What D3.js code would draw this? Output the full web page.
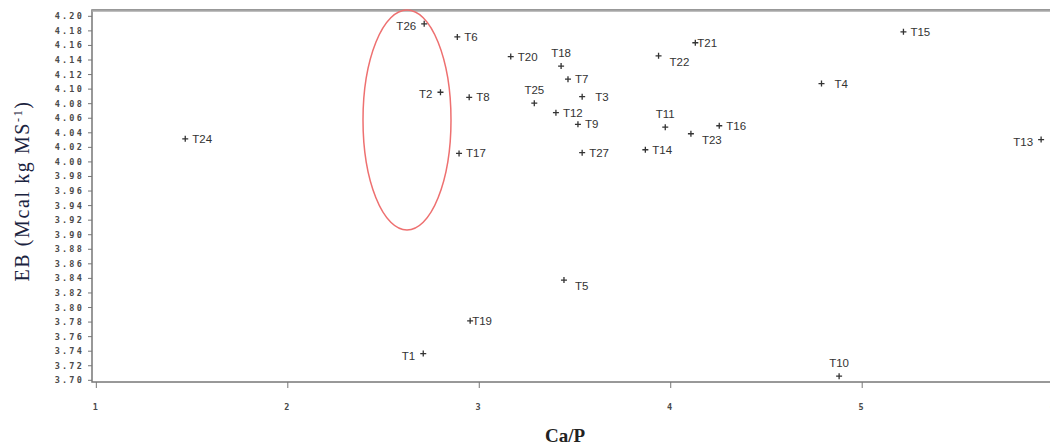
<!DOCTYPE html>
<html>
<head>
<meta charset="utf-8">
<script src="https://cdn.jsdelivr.net/npm/d3@7"></script>
<style>
  body { margin: 0; background: #fff; }
  svg { display: block; }
  .tick text { font-family: "DejaVu Sans Mono", monospace; font-weight: bold; font-size: 8.5px; fill: #4a4a4a; letter-spacing: 2.2px; }
  .tick line, .domain { stroke: #777; }
  .etiketa { font-family: "Liberation Sans", Arial, sans-serif; font-size: 11.5px; fill: #333; }
</style>
</head>
<body>
<div id="okvir"></div>
<script>
// tretmani, odnos Ca/P i EB
const tretmani = ["T1","T2","T3","T4","T5","T6","T7","T8","T9","T10","T11","T12","T13","T14","T15","T16","T17","T18","T19","T20","T21","T22","T23","T24","T25","T26","T27"]
const caP = [2.71, 2.80, 3.54, 4.79, 3.445, 2.888, 3.466, 2.95, 3.518, 4.882, 3.974, 3.403, 5.937, 3.87, 5.218, 4.256, 2.897, 3.43, 2.955, 3.167, 4.131, 3.939, 4.108, 1.467, 3.29, 2.715, 3.54]
const eb = [3.736, 4.095, 4.089, 4.107, 3.837, 4.171, 4.113, 4.088, 4.051, 3.705, 4.047, 4.067, 4.030, 4.016, 4.178, 4.049, 4.011, 4.131, 3.781, 4.144, 4.163, 4.145, 4.038, 4.031, 4.080, 4.189, 4.012]
// gdje stoji oznaka u odnosu na tocku
const polozajOznake = ["lijevo","lijevo","desnoDalje","desnoDalje","doljeDesno","desno","desno","desno","desno","gore","gore","desno","lijevo","desno","desno","desno","desno","gore","desnoBlizu","desno","desnoBlizu","doljeDesno","doljeDesno","desno","gore","lijevo","desno"]

const xTicks = [1, 2, 3, 4, 5, 6]
const yTicks = d3.range(3.70, 4.2001, 0.02)

const dimenzije = { sirina: 1050, visina: 446 }

const okvir = d3.select("#okvir").append("svg")
  .attr("width", dimenzije.sirina)
  .attr("height", dimenzije.visina)

const x = d3.scaleLinear().domain([0.98, 6.02]).range([92, 1057])
const y = d3.scaleLinear().domain([3.697, 4.208]).range([382, 10])

// okvir grafa
okvir.append("rect")
  .attr("x", x.range()[0]).attr("y", y.range()[1])
  .attr("width", x.range()[1] - x.range()[0])
  .attr("height", y.range()[0] - y.range()[1])
  .attr("fill", "none").attr("stroke", "#777").attr("stroke-width", 1.5)
okvir.append("line")
  .attr("x1", x.range()[0]).attr("x2", x.range()[1])
  .attr("y1", y.range()[1] + 1).attr("y2", y.range()[1] + 1)
  .attr("stroke", "#aaa").attr("stroke-width", 1.5)

const xOs = okvir.append("g")
  .attr("transform", `translate(0,${y.range()[0]})`)
  .call(d3.axisBottom(x).tickValues(xTicks).tickFormat(d3.format("d")).tickSize(6).tickPadding(16))
xOs.select(".domain").remove()

const yOs = okvir.append("g")
  .attr("transform", `translate(${x.range()[0]},0)`)
  .call(d3.axisLeft(y).tickValues(yTicks).tickFormat(d3.format(".2f")).tickSize(4).tickPadding(4))
yOs.select(".domain").remove()
yOs.selectAll(".tick text").attr("dy", "0.35em")

// crvena elipsa
okvir.append("ellipse")
  .attr("cx", 407).attr("cy", 120)
  .attr("rx", 44).attr("ry", 110)
  .attr("fill", "none").attr("stroke", "#ee7070").attr("stroke-width", 1.5)

const podaci = tretmani.map((t, i) => ({ t, x: caP[i], y: eb[i], p: polozajOznake[i] }))

const tocke = okvir.append("g")
tocke.selectAll("path")
  .data(podaci)
  .enter().append("path")
  .attr("d", d => {
    const cx = x(d.x), cy = y(d.y)
    return `M${cx - 3},${cy}H${cx + 3}M${cx},${cy - 3}V${cy + 3}`
  })
  .attr("stroke", "#333").attr("stroke-width", 1.3)

const pomak = {
  desno: [7, 4, "start"],
  desnoBlizu: [2, 4, "start"],
  desnoDalje: [13, 4, "start"],
  lijevo: [-8, 6, "end"],
  gore: [0, -9, "middle"],
  doljeDesno: [11, 10, "start"],
}

tocke.selectAll("text")
  .data(podaci)
  .enter().append("text")
  .attr("class", "etiketa")
  .attr("x", d => x(d.x) + pomak[d.p][0])
  .attr("y", d => y(d.y) + pomak[d.p][1])
  .attr("text-anchor", d => pomak[d.p][2])
  .text(d => d.t)

// naslovi osi
okvir.append("text")
  .attr("x", 565).attr("y", 442)
  .attr("text-anchor", "middle")
  .attr("font-family", "Liberation Serif, Times New Roman, serif")
  .attr("font-weight", "bold")
  .attr("font-size", 19)
  .attr("fill", "#222")
  .text("Ca/P")

const yNaslov = okvir.append("text")
  .attr("transform", "translate(29,191) rotate(-90)")
  .attr("text-anchor", "middle")
  .attr("font-family", "Liberation Serif, Times New Roman, serif")
  .attr("font-size", 20)
  .attr("letter-spacing", 1.6)
  .attr("fill", "#1a2340")
yNaslov.append("tspan").text("EB (Mcal kg MS")
yNaslov.append("tspan").attr("dy", -7).attr("font-size", 12).text("-1")
yNaslov.append("tspan").attr("dy", 7).text(")")
</script>
</body>
</html>
